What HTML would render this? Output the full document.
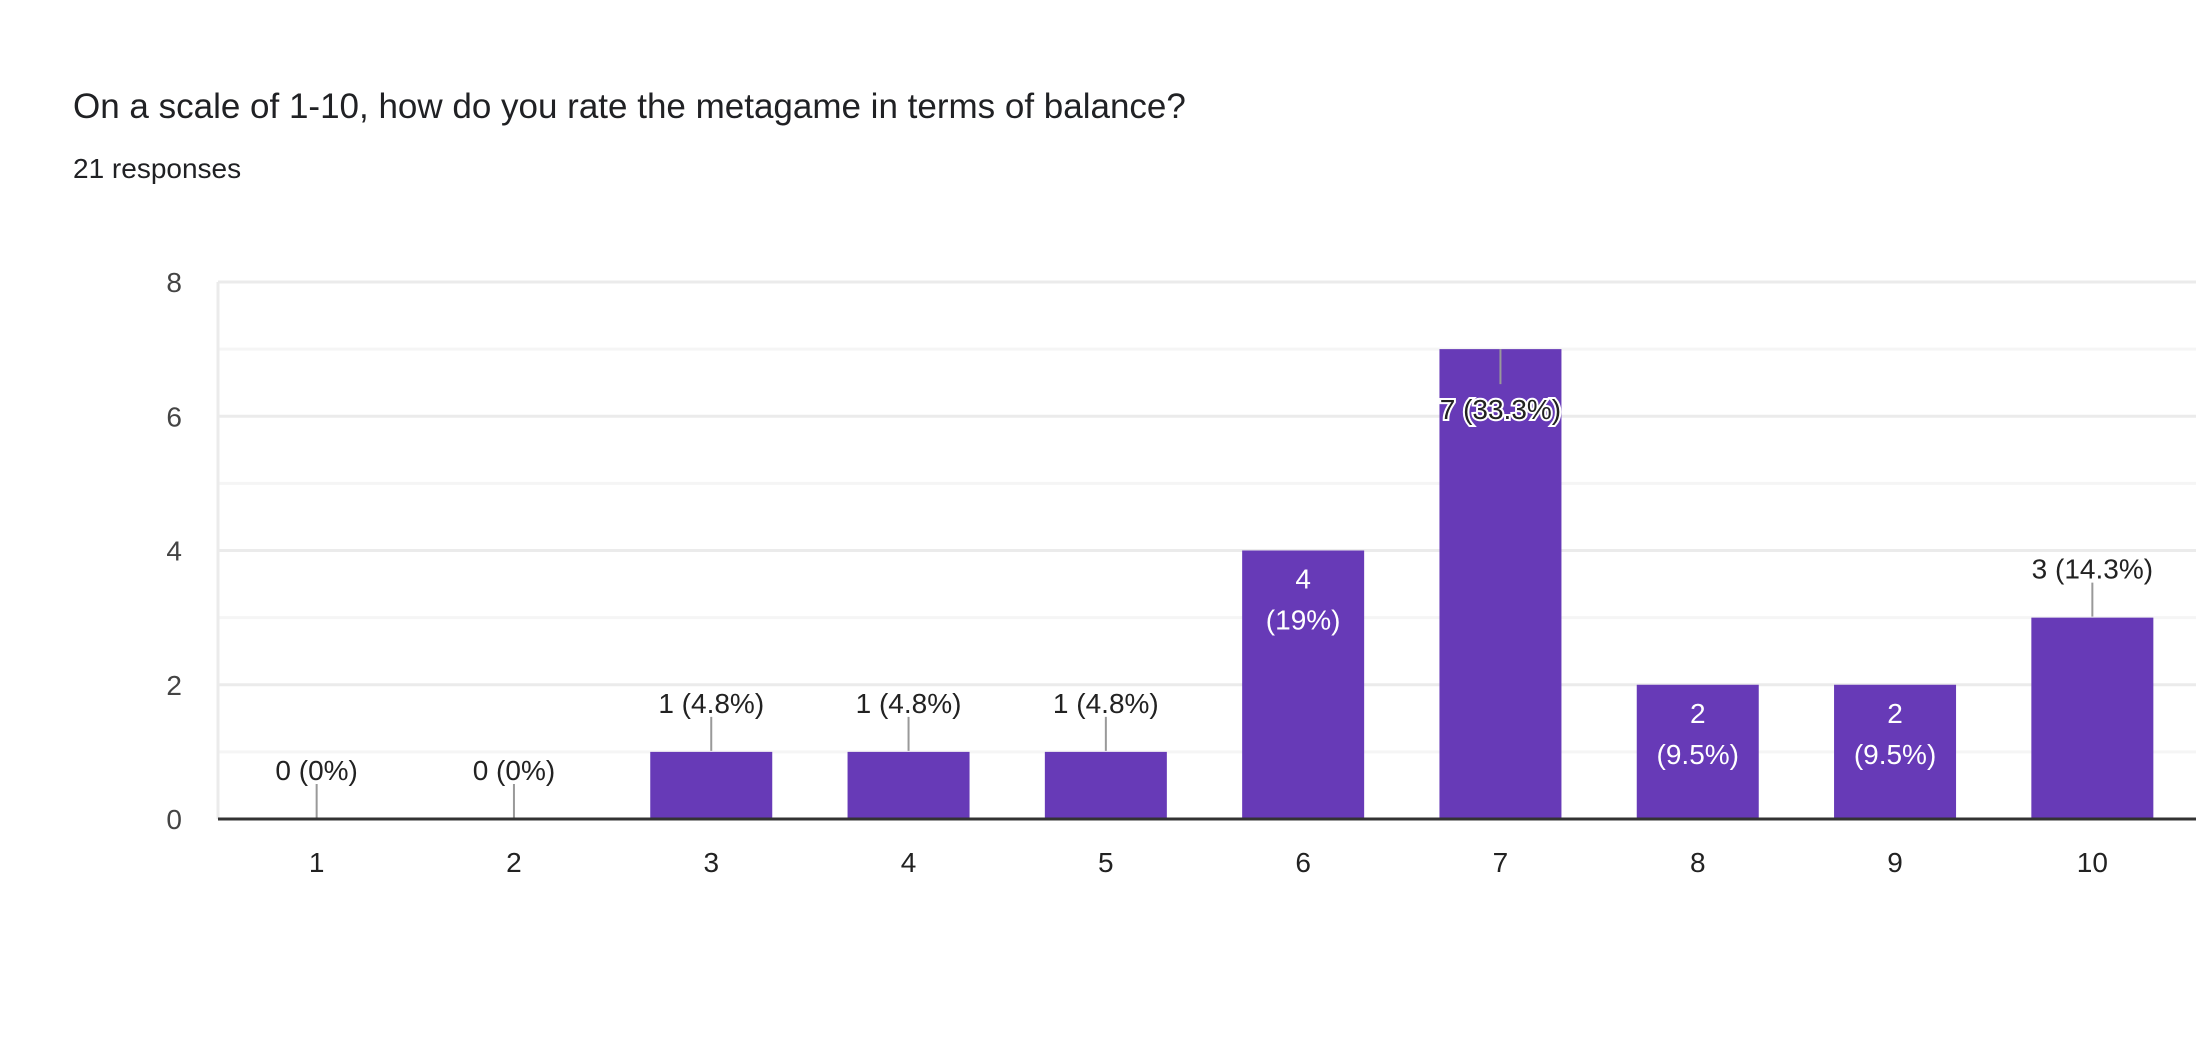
<!DOCTYPE html>
<html><head><meta charset="utf-8"><style>
html,body{margin:0;padding:0;background:#fff;width:2196px;height:1044px;overflow:hidden;font-family:"Liberation Sans",Arial,sans-serif}
</style></head><body>
<svg id="chart" width="2196" height="1044" xmlns="http://www.w3.org/2000/svg" font-family="Liberation Sans, Arial, sans-serif">
<text x="73" y="118" font-size="35" fill="#202124">On a scale of 1-10, how do you rate the metagame in terms of balance?</text>
<text x="73" y="178" font-size="28" fill="#202124">21 responses</text>
<g id="grid"></g><g id="bars"></g><g id="labels"></g>
</svg>
<script>
const categories = ["1","2","3","4","5","6","7","8","9","10"];
const counts = [0,0,1,1,1,4,7,2,2,3];
const percents = ["0%","0%","4.8%","4.8%","4.8%","19%","33.3%","9.5%","9.5%","14.3%"];
const yTicks = [0,2,4,6,8];
const NS="http://www.w3.org/2000/svg";
const L=218,R=2196,T=282,B=819,yMax=8;
const step=(2191-L)/categories.length, bw=122;
const y=v=>B-(B-T)*v/yMax;
const x=i=>L+step*(i+0.5);
function mk(tag,attrs,parent){const e=document.createElementNS(NS,tag);for(const k in attrs)e.setAttribute(k,attrs[k]);parent.appendChild(e);return e;}
const grid=document.getElementById('grid'),bars=document.getElementById('bars'),labels=document.getElementById('labels');
for(let v=0;v<=yMax;v++){const g=mk('line',{x1:L,x2:R,y1:y(v),y2:y(v),stroke:v%2?'#f5f5f5':'#ebebeb','stroke-width':3},grid);

}
const la=mk('line',{x1:L,x2:L,y1:T,y2:B,stroke:'#ebebeb','stroke-width':3},grid);


yTicks.forEach(v=>{const t=mk('text',{x:182,y:y(v)+10,'text-anchor':'end','font-size':28,fill:'#444'},grid);t.textContent=v;

});
categories.forEach((c,i)=>{
const cx=x(i),v=counts[i],top=y(v);
if(v>0){const r=mk('rect',{x:cx-bw/2,y:top,width:bw,height:B-top,fill:'#673ab7'},bars);

}
const t=mk('text',{x:cx,y:872,'text-anchor':'middle','font-size':28,fill:'#222'},labels);t.textContent=c;


const txt=v+' ('+percents[i]+')';
if(v===7){
 const ln=mk('line',{x1:cx,x2:cx,y1:top,y2:top+35,stroke:'#999','stroke-width':2},labels);
 
 
 const d=mk('text',{x:cx,y:top+70,'text-anchor':'middle','font-size':28,fill:'#222',stroke:'#fff','stroke-width':4,'paint-order':'stroke'},labels);d.textContent=txt;
 
 
}else if(v>=2){
 const d1=mk('text',{x:cx,y:top+38,'text-anchor':'middle','font-size':28,fill:'#fff'},labels);d1.textContent=v;
 
 
 if(v===3){d1.remove();}
 if(v!==3){const d2=mk('text',{x:cx,y:top+79,'text-anchor':'middle','font-size':28,fill:'#fff'},labels);d2.textContent='('+percents[i]+')';
 
 }
}
if(v<2||v===3){
 const ln=mk('line',{x1:cx,x2:cx,y1:top-1,y2:top-35,stroke:'#999','stroke-width':2},labels);
 
 
 const d=mk('text',{x:cx,y:top-39,'text-anchor':'middle','font-size':28,fill:'#222'},labels);d.textContent=txt;
 
 
}
});
const ax=mk('line',{x1:L,x2:R,y1:B,y2:B,stroke:'#333','stroke-width':3},labels);


</script>
</body></html>
